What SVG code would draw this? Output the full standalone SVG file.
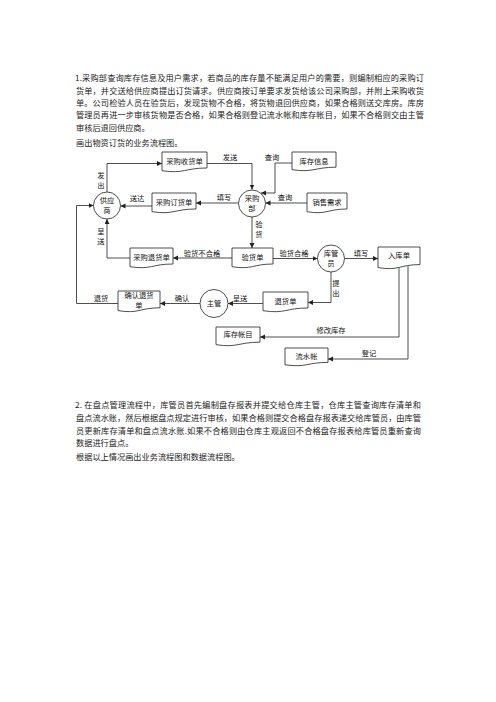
<svg xmlns="http://www.w3.org/2000/svg" width="496" height="702" viewBox="0 0 496 702">
<defs>
<marker id="ah" markerUnits="userSpaceOnUse" markerWidth="6" markerHeight="6" refX="5" refY="2.5" orient="auto">
<path d="M0,0 L5,2.5 L0,5 Z" fill="#222"/>
</marker>
<style>
.body{font-family:"Noto Sans CJK SC","Liberation Serif",serif;font-size:8.2px;fill:#222}
.t{font-family:"Noto Sans CJK SC","Liberation Sans",sans-serif;font-size:7.3px;fill:#111;text-anchor:middle}
.lb{font-family:"Noto Sans CJK SC","Liberation Sans",sans-serif;font-size:7.3px;fill:#111;text-anchor:middle}
.doc,.proc{fill:#fff;stroke:#222;stroke-width:0.8}
.c{fill:none;stroke:#222;stroke-width:0.8;marker-end:url(#ah)}
</style>
</defs>
<rect width="496" height="702" fill="#fff"/>
<g id="text1">
<text class="body" x="75" y="81" textLength="349" lengthAdjust="spacing">1.采购部查询库存信息及用户需求，若商品的库存量不能满足用户的需要，则编制相应的采购订</text>
<text class="body" x="76" y="93.5" textLength="348" lengthAdjust="spacing">货单，并交送给供应商提出订货请求。供应商按订单要求发货给该公司采购部，并附上采购收货</text>
<text class="body" x="76" y="105.5" textLength="348" lengthAdjust="spacing">单。公司检验人员在验货后，发现货物不合格，将货物退回供应商，如果合格则送交库房。库房</text>
<text class="body" x="76" y="118" textLength="348" lengthAdjust="spacing">管理员再进一步审核货物是否合格，如果合格则登记流水帐和库存帐目，如果不合格则交由主管</text>
<text class="body" x="76" y="130.5">审核后退回供应商。</text>
<text class="body" x="76" y="146">画出物资订货的业务流程图。</text>
</g>
<g id="connectors">
<path class="c" d="M107,192 V163.5 H162"/>
<path class="c" d="M207,163.5 H252 V189.5"/>
<path class="c" d="M292,163 H275 V193 H261"/>
<path class="c" d="M307,203 H265.5"/>
<path class="c" d="M238.5,203 H196"/>
<path class="c" d="M152,206 H120.5"/>
<path class="c" d="M252,217 V248"/>
<path class="c" d="M232,258 H173"/>
<path class="c" d="M130,258 H107 V219"/>
<path class="c" d="M273,258.5 H317.5"/>
<path class="c" d="M344.5,258.5 H378"/>
<path class="c" d="M331,272 V302.5 H308"/>
<path class="c" d="M263,303.5 H228"/>
<path class="c" d="M200,303.5 H160"/>
<path class="c" d="M118,303.5 H76.5 V205.5 H93.5"/>
<path class="c" d="M399,268 V337 H260"/>
<path class="c" d="M408,266 V359 H328"/>
<text class="lb" x="101" y="178">发</text>
<text class="lb" x="101" y="188">出</text>
<text class="lb" x="230" y="160">发送</text>
<text class="lb" x="272" y="160">查询</text>
<text class="lb" x="285" y="200">查询</text>
<text class="lb" x="224" y="200">填写</text>
<text class="lb" x="137" y="201">送达</text>
<text class="lb" x="259" y="227">验</text>
<text class="lb" x="259" y="237">货</text>
<text class="lb" x="101" y="234">呈</text>
<text class="lb" x="101" y="244">送</text>
<text class="lb" x="202" y="256">验货不合格</text>
<text class="lb" x="294" y="256">验货合格</text>
<text class="lb" x="361" y="256">填写</text>
<text class="lb" x="336" y="286">提</text>
<text class="lb" x="336" y="296">出</text>
<text class="lb" x="240" y="301">呈送</text>
<text class="lb" x="182" y="301">确认</text>
<text class="lb" x="101" y="301">退货</text>
<text class="lb" x="331" y="333">修改库存</text>
<text class="lb" x="369" y="356">登记</text>
</g>
<g id="n-cgshd"><path class="doc" d="M162,152 H207 V168 C184.5,168 184.5,174 162,170.7 Z"/><text class="t" x="184.5" y="164">采购收货单</text></g>
<g id="n-kcxx"><path class="doc" d="M292,152 H336 V167.2 C314,167.2 314,172.9 292,169.7 Z"/><text class="t" x="314" y="163.5">库存信息</text></g>
<g id="n-cgdhd"><path class="doc" d="M152,193 H196 V209 C174,209 174,215 152,211.7 Z"/><text class="t" x="174" y="204.5">采购订货单</text></g>
<g id="n-xsxq"><path class="doc" d="M307,193 H347 V209 C327,209 327,215 307,211.7 Z"/><text class="t" x="327" y="204.5">销售需求</text></g>
<g id="n-cgthd"><path class="doc" d="M130,248 H173 V264 C151.5,264 151.5,270 130,266.7 Z"/><text class="t" x="151.5" y="259.5">采购退货单</text></g>
<g id="n-yhd"><path class="doc" d="M232,248 H273 V264 C252.5,264 252.5,270 232,266.7 Z"/><text class="t" x="252.5" y="259.5">验货单</text></g>
<g id="n-rkd"><path class="doc" d="M378,247 H420 V264.6 C399,264.6 399,271.2 378,267.5 Z"/><text class="t" x="399" y="258">入库单</text></g>
<g id="n-qrthd"><path class="doc" d="M118,291 H160 V307.8 C139,307.8 139,314.1 118,310.6 Z"/><text class="t" x="139" y="298">确认退货</text><text class="t" x="139" y="308">单</text></g>
<g id="n-thd"><path class="doc" d="M263,292 H308 V308 C285.5,308 285.5,314 263,310.7 Z"/><text class="t" x="285.5" y="303.5">退货单</text></g>
<g id="n-kczm"><path class="doc" d="M216,327 H260 V342.2 C238,342.2 238,347.9 216,344.7 Z"/><text class="t" x="238" y="337">库存帐目</text></g>
<g id="n-lsz"><path class="doc" d="M285,348 H328 V362.4 C306.5,362.4 306.5,367.8 285,364.8 Z"/><text class="t" x="306.5" y="359">流水帐</text></g>
<g id="n-gys"><circle class="proc" cx="107" cy="205.5" r="13.5"/><text class="t" x="107" y="203">供应</text><text class="t" x="107" y="212.5">商</text></g>
<g id="n-cgb"><circle class="proc" cx="252" cy="203.5" r="13.5"/><text class="t" x="252" y="201">采购</text><text class="t" x="252" y="211">部</text></g>
<g id="n-kgy"><circle class="proc" cx="331" cy="258.5" r="13.5"/><text class="t" x="331" y="256">库管</text><text class="t" x="331" y="266">员</text></g>
<g id="n-zg"><circle class="proc" cx="214" cy="303.5" r="14"/><text class="t" x="214" y="306">主管</text></g>
<g id="text2">
<text class="body" x="75" y="408" textLength="346" lengthAdjust="spacing">2. 在盘点管理流程中，库管员首先编制盘存报表并提交给仓库主管，仓库主管查询库存清单和</text>
<text class="body" x="76" y="421" textLength="345" lengthAdjust="spacing">盘点流水账，然后根据盘点规定进行审核，如果合格则提交合格盘存报表递交给库管员，由库管</text>
<text class="body" x="76" y="433.5" textLength="345" lengthAdjust="spacing">员更新库存清单和盘点流水账.如果不合格则由仓库主观返回不合格盘存报表给库管员重新查询</text>
<text class="body" x="76" y="446">数据进行盘点。</text>
<text class="body" x="76" y="460">根据以上情况画出业务流程图和数据流程图。</text>
</g>
</svg>
